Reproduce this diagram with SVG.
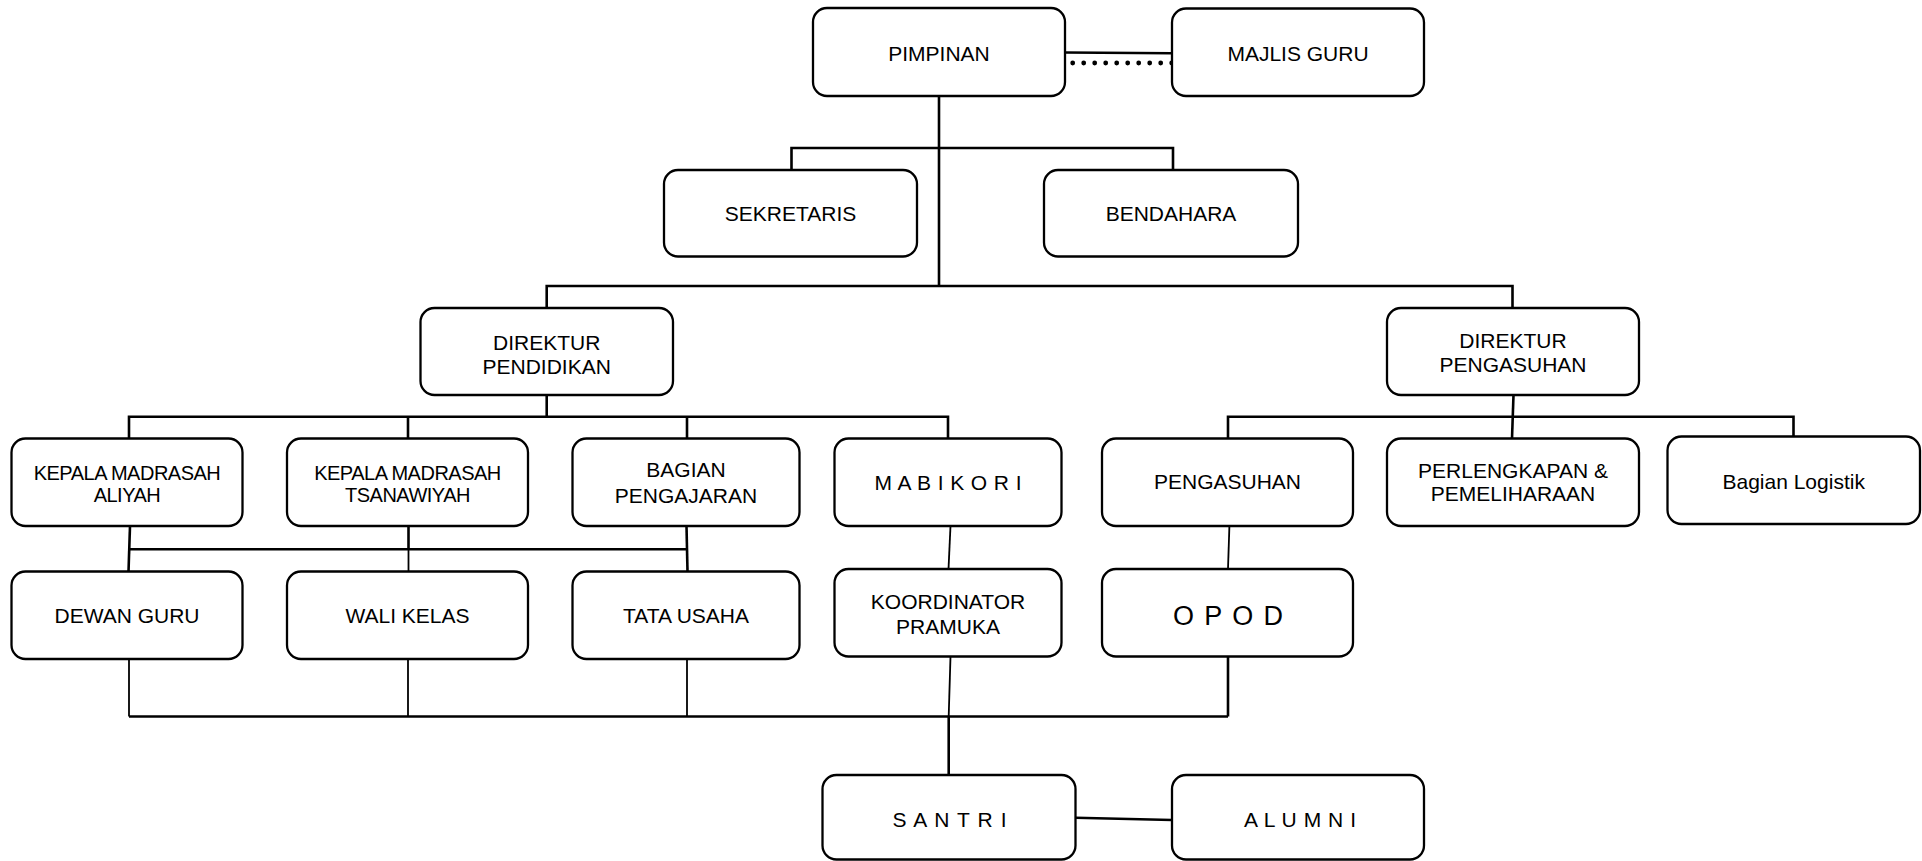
<svg xmlns="http://www.w3.org/2000/svg" width="1922" height="861" viewBox="0 0 1922 861">
<style>
.bg{fill:#ffffff}
.box{fill:#ffffff;stroke:#000;stroke-width:2.3}
.ln{fill:none;stroke:#000;stroke-width:2.6;stroke-linejoin:miter}
.thin{fill:none;stroke:#000;stroke-width:1.8}
.dot{fill:none;stroke:#000;stroke-width:4.8;stroke-linecap:round;stroke-dasharray:0 11}
text{font-family:"Liberation Sans",Arial,sans-serif;font-size:21px;fill:#000;text-anchor:middle}
.sm{font-size:20px;letter-spacing:-0.5px}
.big{font-size:27px}
</style>
<rect class="bg" x="0" y="0" width="1922" height="861"/>
<g id="connectors">
<path class="ln" d="M1065 52.5 L1172 53.3"/>
<path class="dot" d="M1072.7 63 H1172"/>
<path class="ln" d="M939 96 V286"/>
<path class="ln" d="M791.5 170 V148 H1173 V170"/>
<path class="ln" d="M546.7 308 V286 H1512.5 V308"/>
<path class="ln" d="M546.7 395 V416.7"/>
<path class="ln" d="M129 438.5 V416.7 H948 V438.5"/>
<path class="ln" d="M408 416.7 V438.5"/>
<path class="ln" d="M687 416.7 V438.5"/>
<path class="ln" d="M1513.5 395 L1512 438.5"/>
<path class="ln" d="M1228 438.5 V416.7 H1793.5 V436.5"/>
<path class="ln" d="M130 526 L128.5 571.5"/>
<path class="ln" d="M408.5 526 V549.3"/>
<path class="thin" d="M408.5 549.3 V571.5"/>
<path class="ln" d="M686.5 526 L687.5 571.5"/>
<path class="ln" d="M129 549.3 H687.5"/>
<path class="thin" d="M950.5 526 L948.5 569"/>
<path class="thin" d="M1229.4 526 L1228 569"/>
<path class="thin" d="M129 659 V716.5"/>
<path class="thin" d="M408 659 V716.5"/>
<path class="thin" d="M687 659 V716.5"/>
<path class="thin" d="M950.5 656.5 L948.7 716.5"/>
<path class="ln" d="M1228 656.5 V716.5"/>
<path class="ln" d="M129 716.5 H1228"/>
<path class="ln" d="M948.7 716.5 V775"/>
<path class="ln" d="M1075.5 817.7 L1172 820"/>
</g>
<g id="pimpinan"><rect class="box" x="813" y="8" width="252" height="88" rx="14"/><text x="939" y="60.5">PIMPINAN</text></g>
<g id="majlis-guru"><rect class="box" x="1172" y="8.5" width="252" height="87.5" rx="14"/><text x="1298" y="60.5">MAJLIS GURU</text></g>
<g id="sekretaris"><rect class="box" x="664" y="170" width="253" height="86.5" rx="14"/><text x="790.5" y="220.5">SEKRETARIS</text></g>
<g id="bendahara"><rect class="box" x="1044" y="170" width="254" height="86.5" rx="14"/><text x="1171" y="220.5">BENDAHARA</text></g>
<g id="direktur-pendidikan"><rect class="box" x="420.5" y="308" width="252.5" height="87" rx="14"/><text x="546.7" y="350">DIREKTUR</text><text x="546.7" y="374">PENDIDIKAN</text></g>
<g id="direktur-pengasuhan"><rect class="box" x="1387" y="308" width="252" height="87" rx="14"/><text x="1513" y="348">DIREKTUR</text><text x="1513" y="372">PENGASUHAN</text></g>
<g id="kepala-aliyah"><rect class="box" x="11.5" y="438.5" width="231" height="87.5" rx="14"/><text class="sm" x="127" y="480">KEPALA MADRASAH</text><text class="sm" x="127" y="502">ALIYAH</text></g>
<g id="kepala-tsanawiyah"><rect class="box" x="287" y="438.5" width="241" height="87.5" rx="14"/><text class="sm" x="407.5" y="480">KEPALA MADRASAH</text><text class="sm" x="407.5" y="502">TSANAWIYAH</text></g>
<g id="bagian-pengajaran"><rect class="box" x="572.5" y="438.5" width="227" height="87.5" rx="14"/><text x="686" y="476.7">BAGIAN</text><text x="686" y="502.7">PENGAJARAN</text></g>
<g id="mabikori"><rect class="box" x="834.5" y="438.5" width="227" height="87.5" rx="14"/><text x="948" y="490" textLength="147" lengthAdjust="spacing">M A B I K O R I</text></g>
<g id="pengasuhan"><rect class="box" x="1102" y="438.5" width="251" height="87.5" rx="14"/><text x="1227.5" y="489">PENGASUHAN</text></g>
<g id="perlengkapan"><rect class="box" x="1387" y="438.5" width="252" height="87.5" rx="14"/><text x="1513" y="477.5">PERLENGKAPAN &amp;</text><text x="1513" y="501">PEMELIHARAAN</text></g>
<g id="bagian-logistik"><rect class="box" x="1667.5" y="436.5" width="252.5" height="87.5" rx="14"/><text x="1793.7" y="489">Bagian Logistik</text></g>
<g id="dewan-guru"><rect class="box" x="11.5" y="571.5" width="231" height="87.5" rx="14"/><text x="127" y="623">DEWAN GURU</text></g>
<g id="wali-kelas"><rect class="box" x="287" y="571.5" width="241" height="87.5" rx="14"/><text x="407.5" y="623">WALI KELAS</text></g>
<g id="tata-usaha"><rect class="box" x="572.5" y="571.5" width="227" height="87.5" rx="14"/><text x="686" y="623">TATA USAHA</text></g>
<g id="koordinator-pramuka"><rect class="box" x="834.5" y="569" width="227" height="87.5" rx="14"/><text x="948" y="609">KOORDINATOR</text><text x="948" y="634">PRAMUKA</text></g>
<g id="opod"><rect class="box" x="1102" y="569" width="251" height="87.5" rx="14"/><text class="big" x="1228" y="625" textLength="110" lengthAdjust="spacing">O P O D</text></g>
<g id="santri"><rect class="box" x="822.5" y="775" width="253" height="84.5" rx="14"/><text x="949.5" y="826.7" textLength="114" lengthAdjust="spacing">S A N T R I</text></g>
<g id="alumni"><rect class="box" x="1172" y="775" width="252" height="84.5" rx="14"/><text x="1300" y="826.7" textLength="112" lengthAdjust="spacing">A L U M N I</text></g>
</svg>
